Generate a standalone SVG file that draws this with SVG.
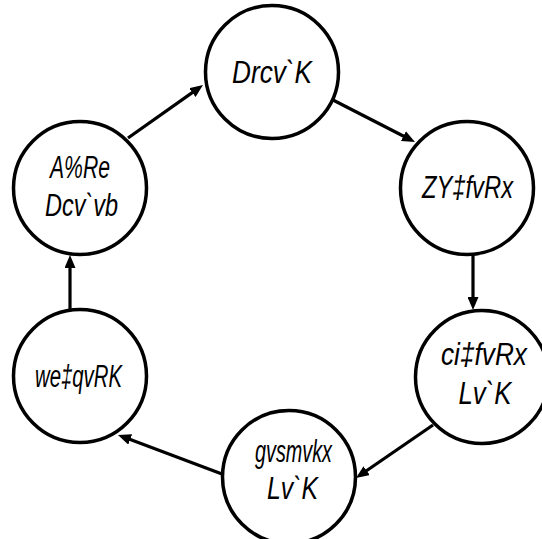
<svg xmlns="http://www.w3.org/2000/svg" width="542" height="539" viewBox="0 0 542 539">
<style>
.node circle{fill:#fff;stroke:#000;stroke-width:3.5}
.node text{font-family:"Liberation Sans",Arial,sans-serif;font-style:italic;font-size:31px;fill:#000;text-anchor:middle}
.edge{stroke:#000;stroke-width:3.2;fill:none;marker-end:url(#ah)}
</style>
<defs>
<marker id="ah" viewBox="0 0 13 11" refX="2" refY="5.5" markerWidth="13" markerHeight="11" markerUnits="userSpaceOnUse" orient="auto">
<path d="M0,0 L13,5.5 L0,11 z" fill="#000"/>
</marker>
</defs>
<rect width="542" height="539" fill="#fff"/>
<g id="connectors">
<line class="edge" x1="128" y1="138" x2="194" y2="91.4"/>
<line class="edge" x1="333" y1="100" x2="405.2" y2="137"/>
<line class="edge" x1="473" y1="255" x2="473" y2="299"/>
<line class="edge" x1="433" y1="425" x2="365" y2="471.8"/>
<line class="edge" x1="222" y1="474" x2="128.3" y2="438.8"/>
<line class="edge" x1="70" y1="310" x2="70" y2="266"/>
</g>
<g id="node-top" class="node">
<circle cx="272" cy="72" r="66.5"/>
<text x="272" y="83" textLength="80" lengthAdjust="spacingAndGlyphs">Drcv`K</text>
</g>
<g id="node-top-right" class="node">
<circle cx="467" cy="188" r="66.5"/>
<text x="467.5" y="198" textLength="91" lengthAdjust="spacingAndGlyphs">ZY‡fvRx</text>
</g>
<g id="node-bottom-right" class="node">
<circle cx="482" cy="377" r="66.5"/>
<text x="484" y="365" textLength="86" lengthAdjust="spacingAndGlyphs">ci‡fvRx</text>
<text x="485" y="404" textLength="53" lengthAdjust="spacingAndGlyphs">Lv`K</text>
</g>
<g id="node-bottom" class="node">
<circle cx="289" cy="477" r="66.5"/>
<text x="293.5" y="462" textLength="77" lengthAdjust="spacingAndGlyphs">gvsmvkx</text>
<text x="292.5" y="499" textLength="51" lengthAdjust="spacingAndGlyphs">Lv`K</text>
</g>
<g id="node-bottom-left" class="node">
<circle cx="80" cy="376" r="66.5"/>
<text x="78.5" y="387" textLength="87" lengthAdjust="spacingAndGlyphs">we‡qvRK</text>
</g>
<g id="node-top-left" class="node">
<circle cx="80" cy="188" r="66.5"/>
<text x="80" y="178" textLength="60" lengthAdjust="spacingAndGlyphs">A%Re</text>
<text x="81.5" y="216" textLength="73" lengthAdjust="spacingAndGlyphs">Dcv`vb</text>
</g>
</svg>
